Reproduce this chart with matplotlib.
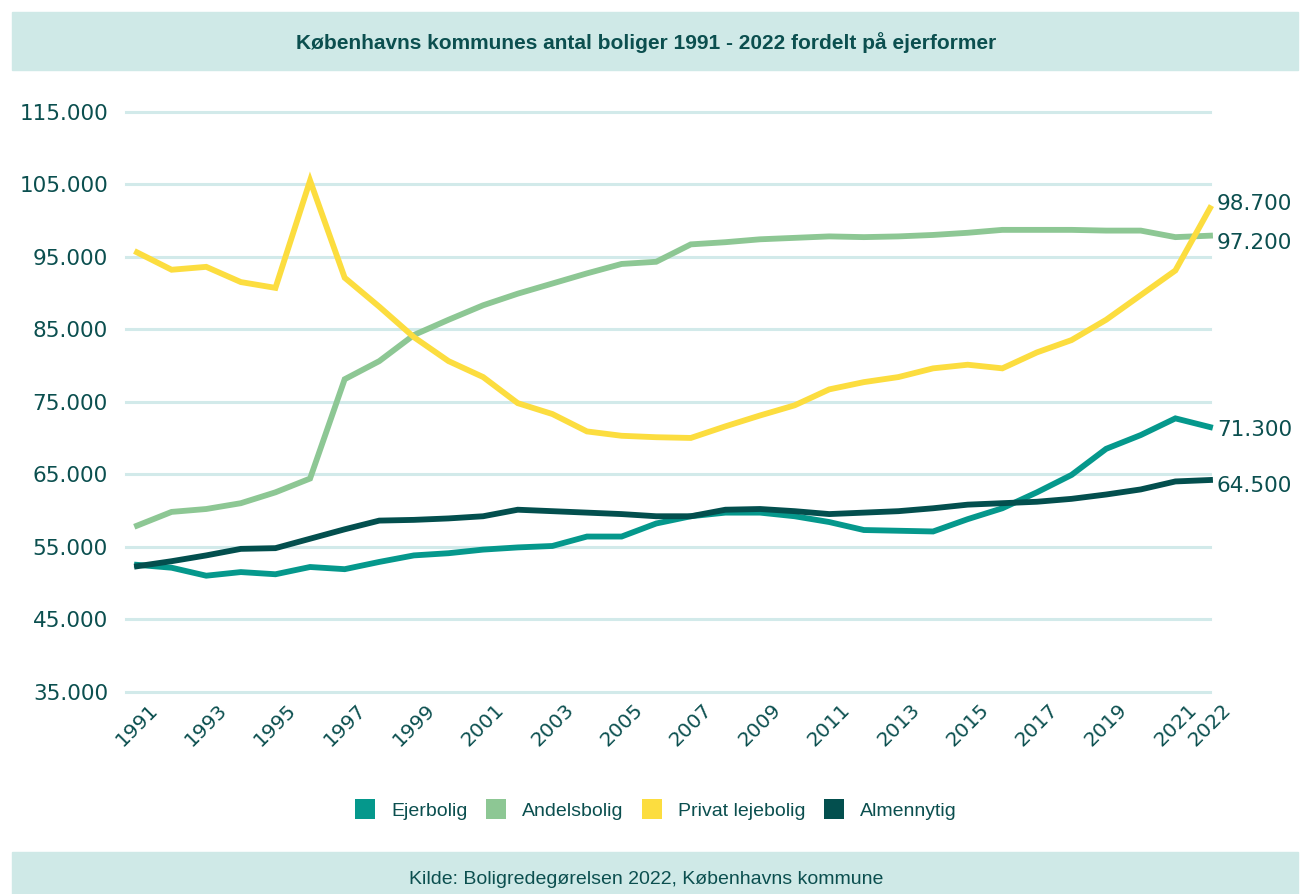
import matplotlib
matplotlib.use('Agg')
import matplotlib.pyplot as plt
from matplotlib.ticker import FuncFormatter
from matplotlib.patches import Rectangle
from matplotlib.lines import Line2D

# Data (antal boliger)
years = list(range(1991, 2023))
ejerbolig = [52500, 52100, 51000, 51500, 51200, 52200, 51900, 52900, 53800, 54100,
             54600, 54900, 55100, 56400, 56400, 58200, 59200, 59700, 59700, 59200,
             58400, 57300, 57200, 57100, 58800, 60300, 62500, 64900, 68500, 70400,
             72700, 71500]
andelsbolig = [57900, 59800, 60200, 61000, 62500, 64400, 78100, 80600, 84200, 86300,
               88300, 89900, 91300, 92700, 94000, 94300, 96700, 97000, 97400, 97600,
               97800, 97700, 97800, 98000, 98300, 98700, 98700, 98700, 98600, 98600,
               97700, 97900]
privat_leje = [95600, 93200, 93600, 91500, 90700, 105500, 92100, 88100, 83900, 80600,
               78400, 74800, 73300, 70900, 70300, 70100, 70000, 71600, 73100, 74500,
               76700, 77700, 78400, 79600, 80100, 79600, 81800, 83500, 86300, 89700,
               93100, 101700]
almennyttig = [52300, 53000, 53800, 54700, 54800, 56100, 57400, 58600, 58700, 58900,
               59200, 60100, 59900, 59700, 59500, 59200, 59200, 60100, 60200, 59900,
               59500, 59700, 59900, 60300, 60800, 61000, 61200, 61600, 62200, 62900,
               64000, 64200]

series_names = ['Ejerbolig', 'Andelsbolig', 'Privat lejebolig', 'Almennytig']
end_labels = ['71.300', '97.200', '98.700', '64.500']
x_ticks = [1991, 1993, 1995, 1997, 1999, 2001, 2003, 2005, 2007, 2009,
           2011, 2013, 2015, 2017, 2019, 2021, 2022]
y_ticks = [35000, 45000, 55000, 65000, 75000, 85000, 95000, 105000, 115000]

colors = ['#05988c', '#8dc794', '#fcdd3f', '#034f4e']
text_color = '#0b4f4f'
banner_color = '#cfe9e7'
grid_color = '#d2eaea'

fig = plt.figure(figsize=(13.01, 8.94), dpi=100)
W, H = 1301, 894

# banners
fig.patches.append(Rectangle((12 / W, 1 - 70 / H), 1286 / W, 58 / H,
                             transform=fig.transFigure, color=banner_color, zorder=0))
fig.patches.append(Rectangle((12 / W, 0), 1286 / W, 42 / H,
                             transform=fig.transFigure, color=banner_color, zorder=0))
fig.text(0.497, 1 - 43 / H, 'Københavns kommunes antal boliger 1991 - 2022 fordelt på ejerformer',
         ha='center', va='center', fontsize=15, fontweight='bold', color=text_color,
         family=['Liberation Sans', 'DejaVu Sans'])
fig.text(0.497, 1 - 879 / H, 'Kilde: Boligredegørelsen 2022, Københavns kommune',
         ha='center', va='center', fontsize=14, color=text_color,
         family=['Liberation Sans', 'DejaVu Sans'])

ax = fig.add_axes([126 / W, 1 - 691.7 / H, (1210 - 126) / W, 580 / H])
all_series = [ejerbolig, andelsbolig, privat_leje, almennyttig]
for vals, c in zip(all_series, colors):
    ax.plot(years, vals, color=c, lw=4.2, solid_joinstyle='miter', clip_on=False, zorder=3)

ax.set_xlim(1991 - 11 / 34.6, 2022)
ax.set_ylim(35000, 115000)
ax.set_yticks(y_ticks)
ax.yaxis.set_major_formatter(FuncFormatter(lambda v, p: f'{int(v):,}'.replace(',', '.')))
ax.set_xticks(x_ticks)
ax.set_xticklabels([str(y) for y in x_ticks], rotation=45)
ax.tick_params(axis='both', length=0, colors=text_color)
ax.tick_params(axis='y', labelsize=15.5, pad=13)
ax.tick_params(axis='x', labelsize=14.5, pad=6)
ax.grid(axis='y', color=grid_color, lw=2.2)
ax.grid(axis='x', visible=False)
ax.set_axisbelow(True)
for gl in ax.yaxis.get_gridlines():
    gl.set_clip_on(False)
for s in ax.spines.values():
    s.set_visible(False)

# end labels
nudges = [-2, -5, 3, -4]
for vals, lab, dy in zip(all_series, end_labels, nudges):
    ax.annotate(lab, (years[-1], vals[-1]), xytext=(5, dy), textcoords='offset points',
                ha='left', va='center', fontsize=15.5, color=text_color,
                annotation_clip=False)

handles = [Line2D([], [], marker='s', ms=15, ls='none', color=c, markeredgewidth=0)
           for c in colors]
fig.legend(handles, series_names, loc='center', bbox_to_anchor=(0.504, 1 - 811 / H),
           ncol=4, frameon=False, handlelength=1.1, handletextpad=0.8,
           columnspacing=0.9, prop={'family': ['Liberation Sans', 'DejaVu Sans'], 'size': 14},
           labelcolor=text_color)

fig.savefig('out.png', dpi=100)
